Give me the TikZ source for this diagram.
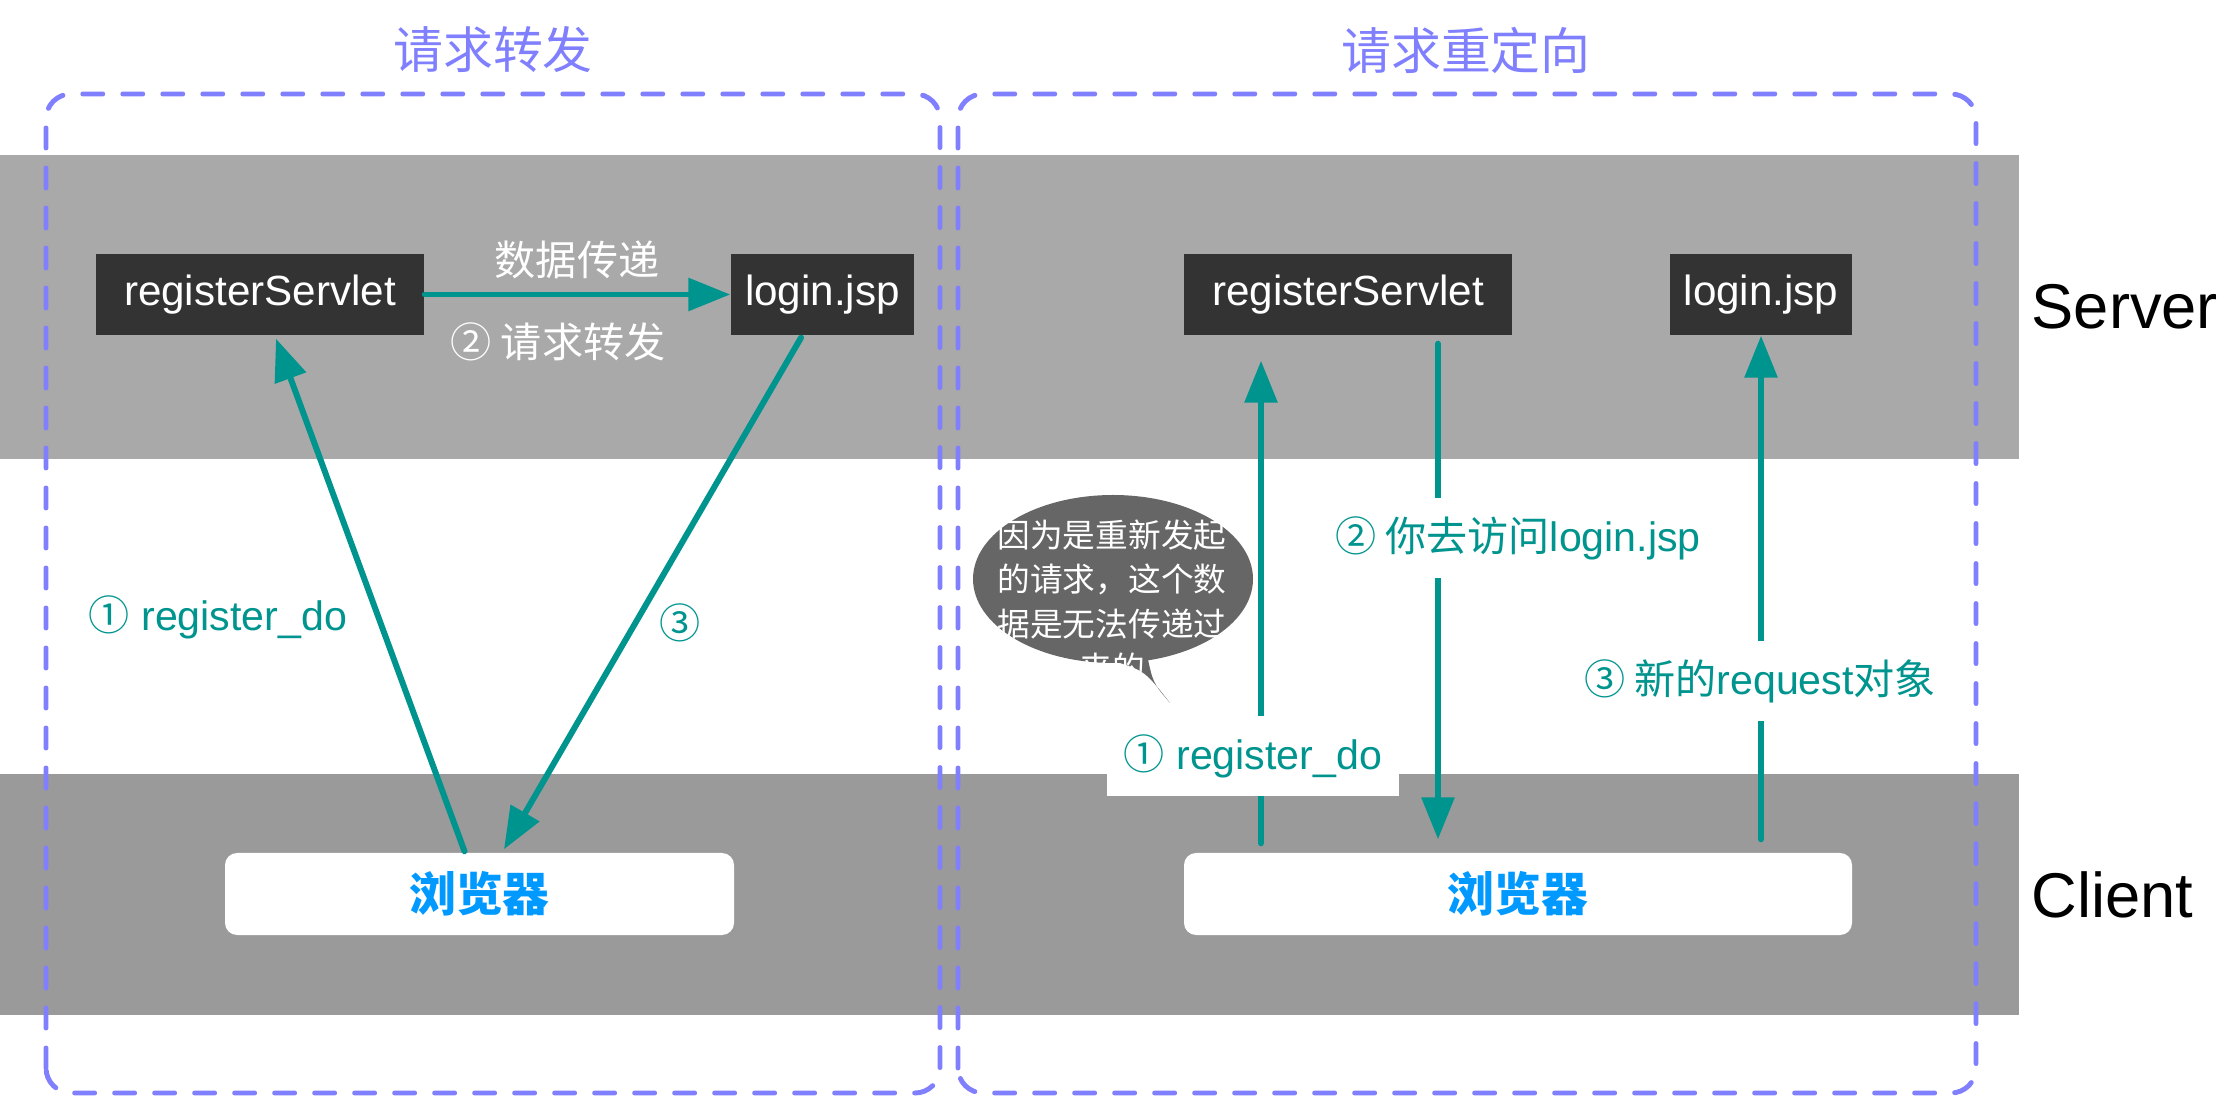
\documentclass[tikz,border=0pt]{standalone}
\usepackage{fontspec}
\setmainfont{Liberation Sans}
\newfontfamily\cjk{Noto Sans CJK SC}
\usetikzlibrary{arrows.meta, calc}

\definecolor{flowteal}{HTML}{00948F}
\definecolor{boxdark}{HTML}{333333}
\definecolor{serverband}{HTML}{A9A9A9}
\definecolor{clientband}{HTML}{9A9A9A}
\definecolor{dashblue}{HTML}{8080FF}
\definecolor{browserblue}{HTML}{0099FF}
\definecolor{bubblegrey}{HTML}{666666}

\begin{document}
\begin{tikzpicture}[> = {Triangle[length=4.2mm, width=3.2mm]},
	flow/.style = {->, flowteal, line width=1.7pt, line cap=round},
	darkbox/.style = {fill=boxdark, text=white, inner sep=0pt, minimum height=0.81cm, font=\fontsize{12}{14}\selectfont},
	browser/.style = {fill=white, rounded corners=0.12cm, inner sep=0pt, minimum height=0.82cm, text=browserblue, font=\cjk\bfseries\fontsize{13.3}{16}\selectfont},
	panel/.style = {dashblue, line width=1.4pt, dash pattern=on 2mm off 2mm, line cap=round, rounded corners=0.25cm},
	title/.style = {text=dashblue, font=\cjk\fontsize{14.2}{17}\selectfont},
	lbl/.style = {text=flowteal, font=\fontsize{11.7}{14}\selectfont},
	gaplbl/.style = {lbl, fill=white, inner xsep=0.14cm, inner ysep=0pt, minimum height=0.8cm},
	tier/.style = {anchor=west, inner sep=0pt, font=\fontsize{18}{22}\selectfont}]

	\useasboundingbox (0, 0) rectangle (22.32, 10.97);

	% Bands

	\fill [serverband] (0, 6.38) rectangle (20.19, 9.42);
	\fill [clientband] (0, 0.82) rectangle (20.19, 3.23);

	\node [tier] (server) at (20.31, 7.90) {Server};
	\node [tier] (client) at (20.31, 2.02) {Client};

	% Panels

	\draw [panel] (0.46, 0.04) rectangle (9.40, 10.03);
	\draw [panel] (9.58, 0.04) rectangle (19.76, 10.03);

	\node [title] (forward) at (4.93, 10.47) {请求转发};
	\node [title] (redirect) at (14.66, 10.47) {请求重定向};

	% Forward

	\node [darkbox, minimum width=3.28cm] (regL) at (2.60, 8.025) {registerServlet};
	\node [darkbox, minimum width=1.83cm] (loginL) at (8.225, 8.025) {login.jsp};
	\node [browser, minimum width=5.09cm] (browserL) at (4.795, 2.03) {浏览器};

	\draw [flow] (regL) -- (loginL);
	\draw [flow] ($(browserL.north) + (-0.15, 0.01)$) -- ($(regL.south) + (0.16, -0.03)$);
	\draw [flow] ($(loginL.south) + (-0.215, -0.02)$) -- ($(browserL.north) + (0.245, 0.03)$);

	\node [lbl, text=white] (pass) at (5.77, 8.37) {\cjk 数据传递};
	\node [lbl, text=white] (fwdstep) at (5.58, 7.55) {\cjk ② 请求转发};
	\node [lbl] (fwdreq) at (2.18, 4.80) {{\cjk ①} register\_do};
	\node [lbl] (fwdback) at (6.80, 4.74) {\cjk ③};

	% Redirect

	\node [darkbox, minimum width=3.28cm] (regR) at (13.48, 8.025) {registerServlet};
	\node [darkbox, minimum width=1.82cm] (loginR) at (17.61, 8.025) {login.jsp};
	\node [browser, minimum width=6.68cm] (browserR) at (15.18, 2.03) {浏览器};

	\draw [flow] ($(regR.south |- browserR.north) + (-0.87, 0.09)$) -- ($(regR.south) + (-0.87, -0.25)$);
	\draw [flow] ($(regR.south) + (0.90, -0.08)$) -- ($(regR.south |- browserR.north) + (0.90, 0.13)$);
	\draw [flow] ($(loginR.south |- browserR.north) + (0, 0.13)$) -- (loginR.south);

	\node [gaplbl, minimum width=2.92cm] (redreq) at (12.53, 3.41) {{\cjk ①} register\_do};
	\node [gaplbl] (redtell) at (15.18, 5.59) {{\cjk ② 你去访问}login.jsp};
	\node [gaplbl] (rednew) at (17.60, 4.16) {{\cjk ③ 新的}request{\cjk 对象}};

	% Speech bubble

	\fill [bubblegrey] (11.13, 5.18) ellipse [x radius=1.40, y radius=0.84];
	\fill [bubblegrey] (11.14, 4.36) .. controls (11.45, 4.26) .. (11.70, 3.94)
		.. controls (11.53, 4.14) .. (11.47, 4.42) -- cycle;
	\node [text=white, align=center, font=\cjk\fontsize{9.3}{12.6}\selectfont] (note) at (11.12, 4.955)
		{因为是重新发起\\的请求，这个数\\据是无法传递过\\来的};

\end{tikzpicture}
\end{document}
